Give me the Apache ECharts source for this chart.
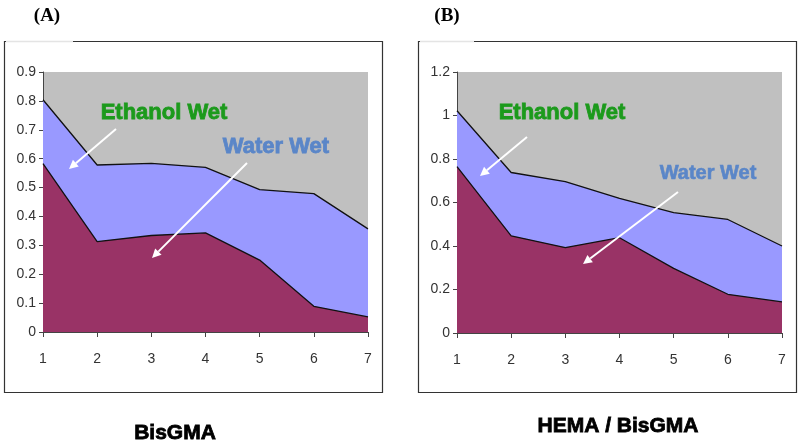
<!DOCTYPE html>
<html>
<head>
<meta charset="utf-8">
<script src="https://cdn.jsdelivr.net/npm/echarts@6/dist/echarts.min.js"></script>
<style>
html,body{margin:0;padding:0;background:#fff;}
#chart{width:800px;height:446px;}
</style>
</head>
<body>
<div id="chart"></div>
<script>
// ---- data ----
var categories = ['1','2','3','4','5','6','7'];
// Panel A: BisGMA
var ethanolA = [0.804, 0.578, 0.584, 0.570, 0.493, 0.479, 0.357];
var waterA   = [0.583, 0.313, 0.334, 0.343, 0.249, 0.089, 0.052];
// Panel B: HEMA / BisGMA
var ethanolB = [1.022, 0.738, 0.696, 0.619, 0.553, 0.522, 0.400];
var waterB   = [0.765, 0.447, 0.393, 0.438, 0.297, 0.178, 0.143];
var yMaxA = 0.9, yStepA = 0.1;
var yMaxB = 1.2, yStepB = 0.2;

var chart = echarts.init(document.getElementById('chart'), null, {renderer:'canvas'});
var FONT = 'Liberation Sans, Arial, sans-serif';

function xAx(gi){
  return {
    type:'category', gridIndex:gi, data:categories, boundaryGap:false,
    axisLine:{show:true, lineStyle:{color:'#444', width:1}},
    axisTick:{show:true, length:5, lineStyle:{color:'#444'}},
    axisLabel:{color:'#333', fontSize:14, fontFamily:FONT, margin:20},
    splitLine:{show:false}
  };
}
function yAx(gi, max, step){
  return {
    type:'value', gridIndex:gi, min:0, max:max, interval:step,
    axisLine:{show:true, lineStyle:{color:'#444', width:1}},
    axisTick:{show:true, length:4, lineStyle:{color:'#444'}},
    axisLabel:{color:'#333', fontSize:14, fontFamily:FONT, margin:7},
    splitLine:{show:false}
  };
}
function area(name, gi, data, color){
  return {
    name:name, type:'line', xAxisIndex:gi, yAxisIndex:gi, data:data,
    symbol:'none', smooth:false,
    lineStyle:{color:'#111', width:1.3},
    areaStyle:{color:color, opacity:1},
    silent:true
  };
}

function arrow(x1,y1,x2,y2){
  var dx=x2-x1, dy=y2-y1, L=Math.sqrt(dx*dx+dy*dy);
  var ux=dx/L, uy=dy/L, hl=9, hw=4.5;
  var bx=x2-ux*hl, by=y2-uy*hl;
  return [
    {type:'line', shape:{x1:x1,y1:y1,x2:bx,y2:by}, style:{stroke:'#fff', lineWidth:2}, z:100},
    {type:'polygon', shape:{points:[[x2,y2],[bx-uy*hw,by+ux*hw],[bx+uy*hw,by-ux*hw]]}, style:{fill:'#fff'}, z:100}
  ];
}
function label(txt,x,y,size,color,family,heavy){
  return {type:'text', x:x, y:y, z:100, style:{text:txt, fill:color, font:'bold '+size+'px '+family, textAlign:'center', textVerticalAlign:'middle', stroke:heavy?color:null, lineWidth:heavy||0}};
}

var graphics = [
  {type:'rect', shape:{x:4.5,y:41.5,width:378,height:351}, style:{fill:'none', stroke:'#333', lineWidth:1.2}, z:-10},
  {type:'rect', shape:{x:418.5,y:41.5,width:378,height:351}, style:{fill:'none', stroke:'#333', lineWidth:1.2}, z:-10},
  {type:'line', shape:{x1:6,y1:41.5,x2:73,y2:41.5}, style:{stroke:'#e4e4e4', lineWidth:1.5}, z:-9},
  {type:'line', shape:{x1:420,y1:41.5,x2:474,y2:41.5}, style:{stroke:'#e4e4e4', lineWidth:1.5}, z:-9},
  label('(A)', 47, 16, 19, '#000', 'Liberation Serif, Times New Roman, serif'),
  label('(B)', 447, 16, 19, '#000', 'Liberation Serif, Times New Roman, serif'),
  label('BisGMA', 175, 433, 21, '#000', FONT, 0.8),
  label('HEMA / BisGMA', 618, 426, 21, '#000', FONT, 0.8),
  label('Ethanol Wet', 164, 112.5, 22, '#1c9a1c', FONT, 0.8),
  label('Water Wet', 276, 146.5, 22, '#5a86c8', FONT, 0.8),
  label('Ethanol Wet', 562, 112.5, 22, '#1c9a1c', FONT, 0.8),
  label('Water Wet', 708, 173, 20, '#5a86c8', FONT, 0.6)
];
graphics = graphics.concat(arrow(116,129,69,169), arrow(247,163,152,258), arrow(527,137,480,176), arrow(678,192,583,264));

chart.setOption({
  animation:false,
  backgroundColor:'#fff',
  grid:[
    {left:43, top:72, width:325, height:260, show:true, backgroundColor:'#c0c0c0', borderWidth:0},
    {left:457, top:72, width:325, height:261, show:true, backgroundColor:'#c0c0c0', borderWidth:0}
  ],
  xAxis:[xAx(0), xAx(1)],
  yAxis:[yAx(0,yMaxA,yStepA), yAx(1,yMaxB,yStepB)],
  series:[
    area('Ethanol Wet', 0, ethanolA, '#9999ff'),
    area('Water Wet', 0, waterA, '#993366'),
    area('Ethanol Wet', 1, ethanolB, '#9999ff'),
    area('Water Wet', 1, waterB, '#993366')
  ],
  graphic:graphics
});
</script>
</body>
</html>
